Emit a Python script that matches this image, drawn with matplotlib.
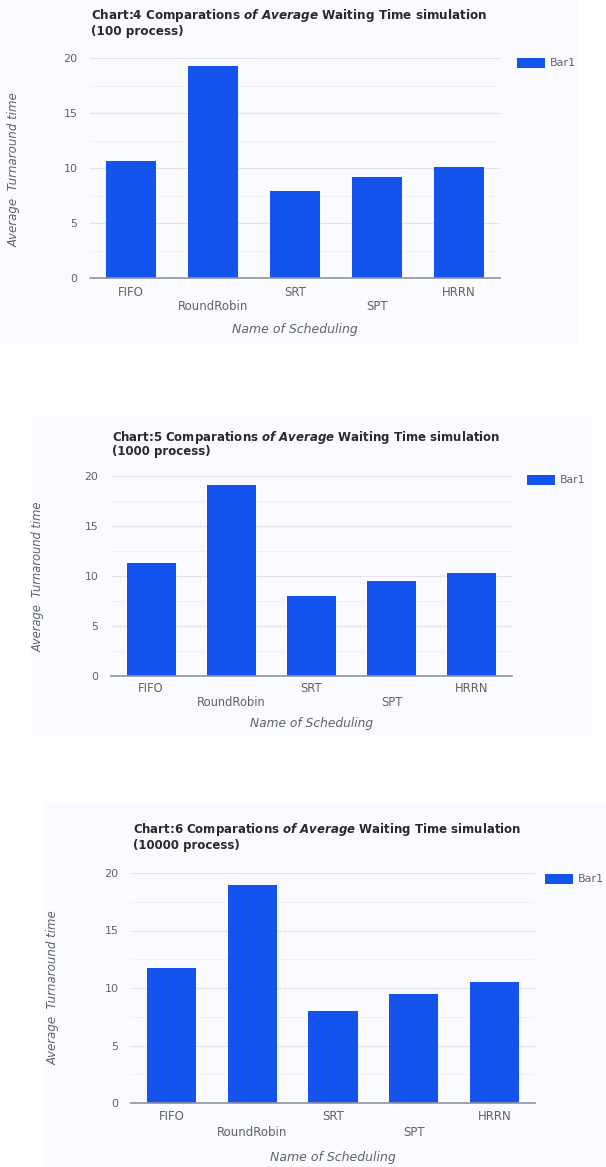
import matplotlib
matplotlib.use("Agg")
import matplotlib.pyplot as plt
from matplotlib.patches import Rectangle

plt.rcParams['font.family'] = ['DejaVu Sans']
plt.rcParams['mathtext.fontset'] = 'custom'
plt.rcParams['mathtext.rm'] = 'DejaVu Sans:bold'
plt.rcParams['mathtext.it'] = 'DejaVu Sans:italic:bold'
plt.rcParams['mathtext.bf'] = 'DejaVu Sans:bold'

# scheduling algorithms and their average waiting time
schedulers = ["FIFO", "RoundRobin", "SRT", "SPT", "HRRN"]
wait_100 = [10.6, 19.3, 7.9, 9.2, 10.1]
wait_1000 = [11.3, 19.1, 8.0, 9.5, 10.3]
wait_10000 = [11.7, 19.0, 8.0, 9.5, 10.5]

chart_numbers = [4, 5, 6]
process_counts = ["100", "1000", "10000"]
y_ticks = [0, 5, 10, 15, 20]

W, H = 606, 1167
BAR_COLOR = '#1553ee'
PANEL_COLOR = '#fafbfe'
TEXT_GRAY = '#5f6268'

fig = plt.figure(figsize=(W / 100, H / 100), dpi=100)
fig.patch.set_facecolor('white')


def fx(x):
    return x / W


def fy(y):
    return 1 - y / H


def panel(x0, y0, x1, y1):
    fig.patches.append(Rectangle((fx(x0), fy(y1)), fx(x1) - fx(x0), fy(y0) - fy(y1),
                                 transform=fig.transFigure, facecolor=PANEL_COLOR,
                                 edgecolor='none', zorder=-5))


def chart(values, number, procs, box, title_xy, ylabel_xy, legend_xy, label_offsets, fs, title_fs):
    left, top, right, bottom = box
    ax = fig.add_axes([fx(left), fy(bottom), fx(right) - fx(left), fy(top) - fy(bottom)])
    ax.set_facecolor('none')
    x = range(len(schedulers))
    ax.bar(x, values, width=0.61, color=BAR_COLOR, zorder=3)
    ax.set_xlim(-0.5, len(schedulers) - 0.5)
    ax.set_ylim(0, 20)
    ax.set_yticks(y_ticks)
    ax.set_yticks([2.5, 7.5, 12.5, 17.5], minor=True)
    ax.grid(axis='y', which='major', color='#e2e4e8', linewidth=0.9, zorder=0)
    ax.grid(axis='y', which='minor', color='#f0f1f4', linewidth=0.7, zorder=0)
    for s in ['top', 'right', 'left']:
        ax.spines[s].set_visible(False)
    ax.spines['bottom'].set_color('#8f9399')
    ax.spines['bottom'].set_linewidth(1.2)
    ax.spines['bottom'].set_zorder(4)
    ax.tick_params(axis='y', which='both', length=0, pad=9, labelsize=fs - 0.5, labelcolor=TEXT_GRAY)
    ax.set_xticks(list(x))
    ax.set_xticklabels(schedulers)
    ax.tick_params(axis='x', length=0, labelsize=fs, labelcolor=TEXT_GRAY)
    # alternate rows for the category names
    row1, row2, name_off = label_offsets
    for i, tick in enumerate(ax.xaxis.get_major_ticks()):
        tick.set_pad((row1 if i % 2 == 0 else row2) * 0.72)
        tick.label1.set_va('center')
    ax.annotate("Name of Scheduling", xy=(0.5, 0), xycoords='axes fraction',
                xytext=(0, -name_off * 0.72), textcoords='offset points',
                ha='center', va='center', fontsize=fs + 0.5, style='italic', color=TEXT_GRAY)

    tx, ty1, ty2 = title_xy
    fig.text(fx(tx), fy(ty1),
             r"Chart:%d Comparations $\mathit{of\ Average}$ Waiting Time simulation" % number,
             ha='left', va='center', fontsize=title_fs, fontweight='bold', color='#2a2a2a')
    fig.text(fx(tx), fy(ty2), "(%s process)" % procs,
             ha='left', va='center', fontsize=title_fs, fontweight='bold', color='#2a2a2a')

    lx, ly = ylabel_xy
    fig.text(fx(lx), fy(ly), "Average  Turnaround time", rotation=90,
             ha='center', va='center', fontsize=fs, style='italic', color=TEXT_GRAY)

    sx, sy = legend_xy
    fig.patches.append(Rectangle((fx(sx), fy(sy + 5)), fx(28), 10 / H,
                                 transform=fig.transFigure, facecolor=BAR_COLOR,
                                 edgecolor='none'))
    fig.text(fx(sx + 33), fy(sy), "Bar1", ha='left', va='center',
             fontsize=fs - 0.5, color=TEXT_GRAY)
    return ax


panel(0, 0, 578, 345)
panel(31, 415, 592, 735)
panel(43, 802, 606, 1167)

chart(wait_100, chart_numbers[0], process_counts[0],
      (90, 58, 500, 278), (91, 16, 32), (14, 170), (517, 63), (14, 29, 52), 8.5, 8.65)
chart(wait_1000, chart_numbers[1], process_counts[1],
      (111, 476, 512, 676), (112, 437, 451), (38, 577), (527, 480), (12, 26, 47), 8.3, 8.45)
chart(wait_10000, chart_numbers[2], process_counts[2],
      (131, 873, 535, 1103), (133, 829, 846), (53, 988), (545, 879), (14, 30, 54), 8.5, 8.5)

fig.savefig("out.png", dpi=100)
